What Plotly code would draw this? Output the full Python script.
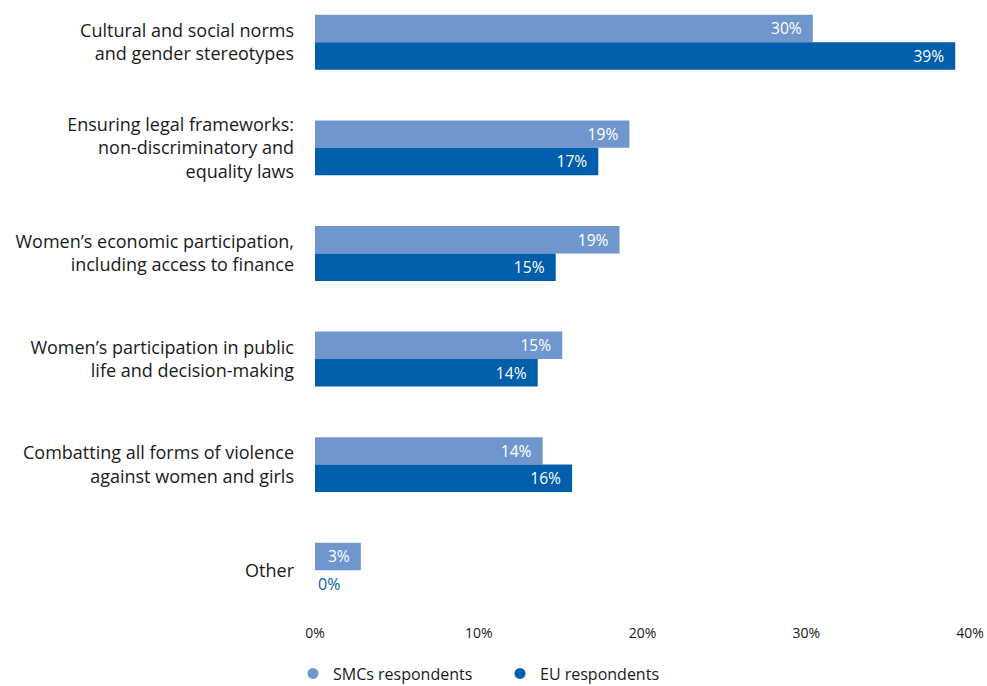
import plotly.graph_objects as go

# Priority areas for gender equality, share of respondents (%)
categories = [
    "Cultural and social norms<br>and gender stereotypes",
    "Ensuring legal frameworks:<br>non-discriminatory and<br>equality laws",
    "Women’s economic participation,<br>including access to finance",
    "Women’s participation in public<br>life and decision-making",
    "Combatting all forms of violence<br>against women and girls",
    "Other",
]
smc_values = [30.4, 19.2, 18.6, 15.1, 13.9, 2.8]
eu_values = [39.1, 17.3, 14.7, 13.6, 15.7, 0.0]

series_names = ["SMCs respondents", "EU respondents"]
x_ticks = [0, 10, 20, 30, 40]

LIGHT = "#6f97cd"
DARK = "#005eab"
FONT = "'Open Sans', 'Noto Sans', sans-serif"


def text_positions(values):
    return ["outside" if v <= 0 else "inside" for v in values]


fig = go.Figure()
for name, vals, color in [(series_names[0], smc_values, LIGHT),
                          (series_names[1], eu_values, DARK)]:
    fig.add_trace(go.Bar(
        y=categories,
        x=vals,
        name=name,
        orientation="h",
        marker=dict(color=color, line=dict(width=0)),
        texttemplate="%{x:.0f}%\u00a0\u00a0",
        textposition=text_positions(vals),
        insidetextanchor="end",
        insidetextfont=dict(color="white", size=16, family=FONT),
        outsidetextfont=dict(color=DARK, size=16, family=FONT),
        cliponaxis=False,
        showlegend=False,
    ))
    # circular legend markers
    fig.add_trace(go.Scatter(
        x=[None], y=[None], mode="markers", name=name,
        marker=dict(color=color, size=11, symbol="circle"),
        showlegend=True,
    ))

fig.update_layout(
    width=987,
    height=686,
    margin=dict(l=315, r=17, t=0, b=63, autoexpand=False),
    paper_bgcolor="white",
    plot_bgcolor="white",
    barmode="group",
    bargap=0.48,
    bargroupgap=0,
    font=dict(family=FONT, color="#1a1a1a"),
    legend=dict(
        orientation="h",
        x=-22 / 655, xref="paper", xanchor="left",
        y=0.043, yref="container", yanchor="top",
        font=dict(size=16, color="#1a1a1a", family=FONT),
        itemwidth=30,
        entrywidth=162,
        entrywidthmode="pixels",
    ),
)
fig.update_xaxes(
    range=[0, 40],
    tickvals=x_ticks,
    ticktext=[f"{t}%" for t in x_ticks],
    showgrid=False,
    zeroline=False,
    showline=False,
    automargin=False,
    tickfont=dict(size=14, color="#1a1a1a", family=FONT),
)
fig.update_yaxes(
    type="category",
    categoryorder="array",
    categoryarray=categories,
    range=[5.5, -0.4],
    showgrid=False,
    zeroline=False,
    showline=False,
    automargin=False,
    ticklabelstandoff=20,
    tickfont=dict(size=18, color="#1a1a1a", family=FONT),
)

fig.write_html("out.html")
